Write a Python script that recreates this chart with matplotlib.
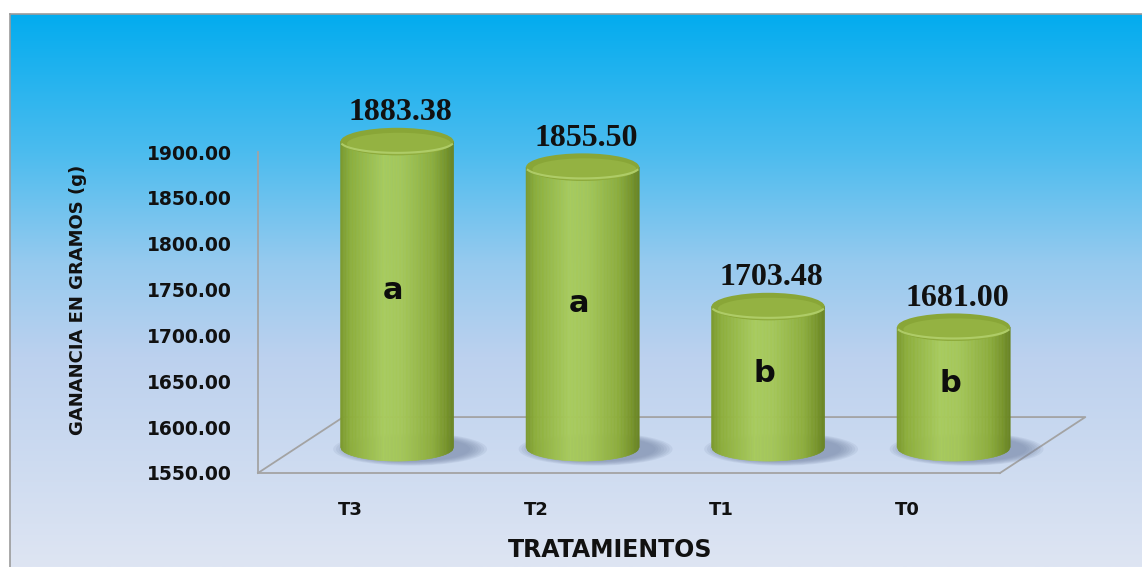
import numpy as np
import matplotlib
matplotlib.use("Agg")
import matplotlib.pyplot as plt
from matplotlib.colors import LinearSegmentedColormap
from matplotlib.patches import Ellipse
from matplotlib.collections import PolyCollection

# data
tratamientos = ["T3", "T2", "T1", "T0"]
ganancia = [1883.38, 1855.50, 1703.48, 1681.00]
letras = ["a", "a", "b", "b"]
y_ticks = [1550, 1600, 1650, 1700, 1750, 1800, 1850, 1900]

Y_MIN, Y_MAX = 1550, 1900
DEPTH_X, DEPTH_Y = 0.46, 61     # floor depth (category units, data units)
BAR_DX, BAR_DY = 0.25, 28       # bars stand in the middle of the floor
BAR_W = 0.61
CAP_H = 30
GRAY = "#a3a3a3"

bg_cmap = LinearSegmentedColormap.from_list(
    "bg", [(0.0, "#03acef"), (0.25, "#4cbcee"), (0.45, "#96caef"),
           (0.62, "#bcd1ee"), (1.0, "#dee5f3")])
side_cmap = LinearSegmentedColormap.from_list(
    "side", [(0.0, "#7c9a2e"), (0.08, "#8dae3b"), (0.38, "#a8cb5d"),
             (0.55, "#a5c759"), (0.82, "#8eae3d"), (0.94, "#78952b"),
             (1.0, "#6a8524")])

fig = plt.figure(figsize=(11.42, 5.67), dpi=100)

# ---- background panel with vertical gradient
bg = fig.add_axes([10 / 1142, 0, 1 - 10 / 1142, 553 / 567])
bg.imshow(np.linspace(0, 1, 256)[:, None], aspect="auto", cmap=bg_cmap,
          extent=(0, 1, 0, 1), interpolation="bilinear")
bg.set_xticks([])
bg.set_yticks([])
for side in ["right", "bottom"]:
    bg.spines[side].set_visible(False)
for side in ["top", "left"]:
    bg.spines[side].set_color("#9b9b9b")
    bg.spines[side].set_linewidth(1.2)

# ---- main axes = front plane of the 3D box
ax = fig.add_axes([258 / 1142, 94 / 567, 742 / 1142, 321 / 567])
ax.set_xlim(0, len(tratamientos))
ax.set_ylim(Y_MIN, Y_MAX)
ax.patch.set_alpha(0)
for side in ["top", "right"]:
    ax.spines[side].set_visible(False)
for side in ["left", "bottom"]:
    ax.spines[side].set_color(GRAY)
    ax.spines[side].set_linewidth(1.3)

ax.set_yticks(y_ticks)
ax.set_yticklabels([f"{v:.2f}" for v in y_ticks])
ax.set_xticks(np.arange(len(tratamientos)) + 0.5)
ax.set_xticklabels(tratamientos)
ax.tick_params(axis="y", length=0, pad=19, labelsize=13.5, labelcolor="#111111")
ax.tick_params(axis="x", length=0, pad=20, labelsize=13, labelcolor="#111111")
for lab in ax.get_xticklabels() + ax.get_yticklabels():
    lab.set_fontweight("bold")

# floor outline
n = len(tratamientos)
ax.plot([0, DEPTH_X, n + DEPTH_X, n],
        [Y_MIN, Y_MIN + DEPTH_Y, Y_MIN + DEPTH_Y, Y_MIN],
        color=GRAY, lw=1.3, clip_on=False, zorder=1)

# ---- cylinders
base = Y_MIN + BAR_DY
for i, (v, letra) in enumerate(zip(ganancia, letras)):
    cx = i + 0.5 + BAR_DX
    top = v + BAR_DY
    half = BAR_W / 2

    # soft shadow on the floor
    for k in range(7):
        ax.add_patch(Ellipse((cx + 0.07, base - 2), BAR_W * (1.36 - 0.05 * k),
                             CAP_H * (1.2 - 0.05 * k), facecolor="#7585a6",
                             edgecolor="none", alpha=0.13, clip_on=False,
                             zorder=2))

    # body as vertical strips for the shading
    xs = np.linspace(cx - half, cx + half, 81)
    u = np.clip((xs - cx) / half, -1, 1)
    ybot = base - CAP_H / 2 * np.sqrt(1 - u ** 2)
    polys, cols = [], []
    for j in range(len(xs) - 1):
        polys.append([(xs[j], top), (xs[j], ybot[j]),
                      (xs[j + 1], ybot[j + 1]), (xs[j + 1], top)])
        cols.append(side_cmap(j / (len(xs) - 2)))
    ax.add_collection(PolyCollection(polys, facecolors=cols, edgecolors=cols,
                                     linewidths=0.4, clip_on=False, zorder=3))

    # top cap
    ax.add_patch(Ellipse((cx, top), BAR_W, CAP_H, facecolor="#89a637",
                         edgecolor="none", clip_on=False, zorder=4))
    ax.add_patch(Ellipse((cx + 0.01, top - CAP_H * 0.08), BAR_W * 0.92,
                         CAP_H * 0.8, facecolor="#94b242", edgecolor="none",
                         clip_on=False, zorder=4))
    uu = np.linspace(-0.97, 0.97, 60)
    ax.plot(cx + uu * half, top - CAP_H / 2 * 0.82 * np.sqrt(1 - uu ** 2),
            color="#b2cf6c", lw=1.5, alpha=0.9, clip_on=False, zorder=4)

    # value label and significance letter
    ax.text(cx + 0.02, top + CAP_H / 2 + 8, f"{v:.2f}", ha="center",
            va="baseline", fontfamily="Liberation Serif", fontweight="bold",
            fontsize=23, color="#111111", clip_on=False, zorder=5)
    ax.text(cx - 0.02, (base + top) / 2 + 4, letra, ha="center", va="center",
            fontweight="bold", fontsize=22, color="#0d0d0d", zorder=5)

fig.text(78 / 1142, 1 - 300 / 567, "GANANCIA EN GRAMOS (g)", rotation=90,
         ha="center", va="center", fontweight="bold", fontsize=13,
         color="#111111")
fig.text(610 / 1142, 1 - 550 / 567, "TRATAMIENTOS", ha="center", va="center",
         fontweight="bold", fontsize=17, color="#111111")

fig.savefig("out.png", dpi=100)
